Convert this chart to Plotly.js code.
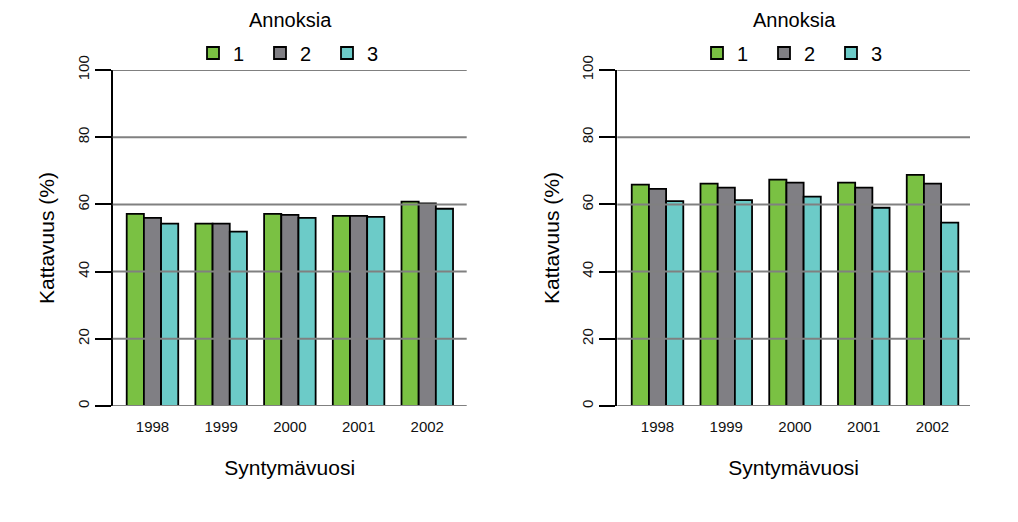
<!DOCTYPE html>
<html>
<head>
<meta charset="utf-8">
<script src="https://cdn.plot.ly/plotly-3.0.1.min.js"></script>
<style>html,body{margin:0;padding:0;background:#fff;}#chart{width:1018px;height:522px;}</style>
</head>
<body>
<div id="chart"></div>
<script>
const years = ['1998', '1999', '2000', '2001', '2002'];
const doseNames = ['1', '2', '3'];
// Left panel
const left1 = [57.2, 54.3, 57.2, 56.6, 60.8];
const left2 = [56.0, 54.3, 56.9, 56.6, 60.3];
const left3 = [54.3, 51.9, 56.0, 56.3, 58.7];
// Right panel
const right1 = [65.9, 66.2, 67.4, 66.5, 68.8];
const right2 = [64.6, 65.0, 66.5, 65.0, 66.2];
const right3 = [61.0, 61.3, 62.3, 59.0, 54.6];
const yTicks = [0, 20, 40, 60, 80, 100];
const colors = ['#7AC143', '#807F84', '#6CCBC8'];
const legendTitle = 'Annoksia';
const xTitle = 'Syntymävuosi';
const yTitle = 'Kattavuus (%)';

const FONT = 'Liberation Sans, Arial, sans-serif';
const leftSeries = [left1, left2, left3];
const rightSeries = [right1, right2, right3];
const traces = [];
leftSeries.forEach((vals, i) => traces.push({
  type: 'bar', x: years, y: vals, name: doseNames[i], xaxis: 'x', yaxis: 'y', legend: 'legend',
  marker: {color: colors[i], line: {color: '#000', width: 1.8}}, hoverinfo: 'y'
}));
rightSeries.forEach((vals, i) => traces.push({
  type: 'bar', x: years, y: vals, name: doseNames[i], xaxis: 'x2', yaxis: 'y2', legend: 'legend2',
  marker: {color: colors[i], line: {color: '#000', width: 1.8}}, hoverinfo: 'y'
}));

const yTop = 1 - 70 / 522, yBot = 1 - 406 / 522;
function xAxis(domain, range) {
  return {
    domain: domain, range: range, type: 'category', showgrid: false, zeroline: false,
    showline: false, ticks: '', tickfont: {family: FONT, size: 15, color: '#111'},
    ticklabelstandoff: 10, fixedrange: true,
    title: {text: xTitle, font: {family: FONT, size: 21, color: '#000'}, standoff: 26}
  };
}
function yAxis(anchor) {
  return {
    domain: [yBot, yTop], range: [0, 100], tickvals: yTicks, ticktext: yTicks.map(String),
    showgrid: false, zeroline: false, showline: true, linecolor: '#000', linewidth: 2,
    ticks: 'outside', ticklen: 16, tickwidth: 2, tickcolor: '#000', tickangle: -90,
    tickfont: {family: FONT, size: 15, color: '#111'}, anchor: anchor, fixedrange: true,
    title: {text: yTitle, font: {family: FONT, size: 21, color: '#000'}, standoff: 14}
  };
}
const shapes = [];
[['x', 'y'], ['x2', 'y2']].forEach(([xa, ya]) => {
  yTicks.forEach(v => shapes.push({
    type: 'line', xref: xa + ' domain', yref: ya, x0: 0, x1: 1, y0: v, y1: v,
    line: {color: '#808080', width: 2}, layer: 'above'
  }));
});
function legendObj(xc) {
  return {
    orientation: 'h', x: xc, xanchor: 'center', y: 1 - 53 / 522, yanchor: 'middle',
    bgcolor: 'rgba(0,0,0,0)', font: {family: FONT, size: 20, color: '#000'},
    entrywidth: 22, entrywidthmode: 'pixels', traceorder: 'normal'
  };
}
const layout = {
  width: 1018, height: 522, margin: {l: 0, r: 0, t: 0, b: 0},
  paper_bgcolor: '#fff', plot_bgcolor: '#fff',
  barmode: 'group', bargap: 0.25, bargroupgap: 0,
  xaxis: xAxis([112.7 / 1018, 466.7 / 1018], [-0.579, 4.574]),
  yaxis: yAxis('x'),
  xaxis2: xAxis([617.3 / 1018, 970 / 1018], [-0.585, 4.545]),
  yaxis2: yAxis('x2'),
  legend: legendObj(293.5 / 1018),
  legend2: legendObj(797.5 / 1018),
  shapes: shapes,
  annotations: [
    {text: legendTitle, xref: 'paper', yref: 'paper', x: 290 / 1018, y: 1 - 20 / 522, xanchor: 'center', yanchor: 'middle', showarrow: false, font: {family: FONT, size: 20, color: '#000'}},
    {text: legendTitle, xref: 'paper', yref: 'paper', x: 794 / 1018, y: 1 - 20 / 522, xanchor: 'center', yanchor: 'middle', showarrow: false, font: {family: FONT, size: 20, color: '#000'}}
  ],
  showlegend: true
};
Plotly.newPlot('chart', traces, layout, {displayModeBar: false, staticPlot: true});
</script>
</body>
</html>
